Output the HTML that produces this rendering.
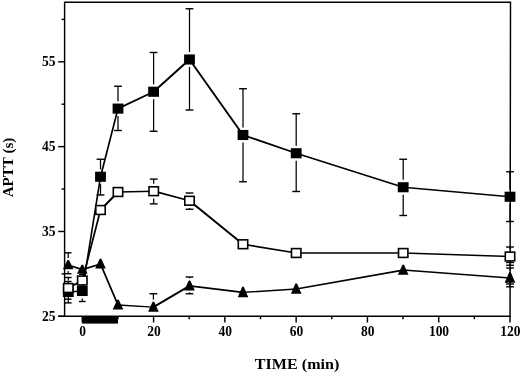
<!DOCTYPE html>
<html><head><meta charset="utf-8"><title>APTT vs TIME</title>
<style>html,body{margin:0;padding:0;background:#fff}body{width:520px;height:373px;overflow:hidden}</style></head>
<body>
<svg width="520" height="373" viewBox="0 0 520 373" style="display:block;will-change:transform">
<rect width="520" height="373" fill="#fff"/>
<g stroke="#000" stroke-width="1.45" fill="none" stroke-linecap="butt">
<path d="M64.6 317 L64.6 2.3 L510.5 2.3 L510.05 317"/>
<line x1="58.3" x2="510.7" y1="316.3" y2="316.3"/>
<line x1="58.2" x2="64.5" y1="316.30" y2="316.30"/>
<line x1="58.2" x2="64.5" y1="231.47" y2="231.47"/>
<line x1="58.2" x2="64.5" y1="146.64" y2="146.64"/>
<line x1="58.2" x2="64.5" y1="61.81" y2="61.81"/>
<line x1="61.6" x2="64.5" y1="273.88" y2="273.88"/>
<line x1="61.6" x2="64.5" y1="189.06" y2="189.06"/>
<line x1="61.6" x2="64.5" y1="104.22" y2="104.22"/>
<line x1="61.6" x2="64.5" y1="19.39" y2="19.39"/>
<line y1="316.3" y2="322.5" x1="82.30" x2="82.30"/>
<line y1="316.3" y2="322.5" x1="153.58" x2="153.58"/>
<line y1="316.3" y2="322.5" x1="224.86" x2="224.86"/>
<line y1="316.3" y2="322.5" x1="296.14" x2="296.14"/>
<line y1="316.3" y2="322.5" x1="367.42" x2="367.42"/>
<line y1="316.3" y2="322.5" x1="438.70" x2="438.70"/>
<line y1="316.3" y2="322.5" x1="509.98" x2="509.98"/>
<line y1="316.3" y2="319.2" x1="117.94" x2="117.94"/>
<line y1="316.3" y2="319.2" x1="189.22" x2="189.22"/>
<line y1="316.3" y2="319.2" x1="260.50" x2="260.50"/>
<line y1="316.3" y2="319.2" x1="331.78" x2="331.78"/>
<line y1="316.3" y2="319.2" x1="403.06" x2="403.06"/>
<line y1="316.3" y2="319.2" x1="474.34" x2="474.34"/>
</g>
<rect x="82.2" y="316.3" width="35.8" height="7.3" fill="#000"/>
<g stroke="#000" stroke-width="1.25" fill="none">
<line x1="68.3" x2="68.3" y1="281.5" y2="284.60"/>
<line x1="68.3" x2="68.3" y1="299.40" y2="302.9"/>
<line x1="65.0" x2="71.6" y1="281.5" y2="281.5" stroke-width="1.4"/>
<line x1="65.0" x2="71.6" y1="302.9" y2="302.9" stroke-width="1.4"/>
<line x1="82.3" x2="82.3" y1="298.40" y2="301.5"/>
<line x1="79.0" x2="85.6" y1="301.5" y2="301.5" stroke-width="1.4"/>
<line x1="100.5" x2="100.5" y1="159.25" y2="169.35"/>
<line x1="100.5" x2="100.5" y1="184.15" y2="195"/>
<line x1="96.6" x2="104.4" y1="159.25" y2="159.25" stroke-width="1.4"/>
<line x1="96.6" x2="104.4" y1="195" y2="195" stroke-width="1.4"/>
<line x1="118" x2="118" y1="86.25" y2="101.20"/>
<line x1="118" x2="118" y1="116.00" y2="130.5"/>
<line x1="114.1" x2="121.9" y1="86.25" y2="86.25" stroke-width="1.4"/>
<line x1="114.1" x2="121.9" y1="130.5" y2="130.5" stroke-width="1.4"/>
<line x1="153.6" x2="153.6" y1="52.5" y2="84.35"/>
<line x1="153.6" x2="153.6" y1="99.15" y2="131.25"/>
<line x1="149.7" x2="157.5" y1="52.5" y2="52.5" stroke-width="1.4"/>
<line x1="149.7" x2="157.5" y1="131.25" y2="131.25" stroke-width="1.4"/>
<line x1="189.5" x2="189.5" y1="8.75" y2="52.10"/>
<line x1="189.5" x2="189.5" y1="66.90" y2="110"/>
<line x1="185.6" x2="193.4" y1="8.75" y2="8.75" stroke-width="1.4"/>
<line x1="185.6" x2="193.4" y1="110" y2="110" stroke-width="1.4"/>
<line x1="243" x2="243" y1="88.75" y2="127.60"/>
<line x1="243" x2="243" y1="142.40" y2="181.75"/>
<line x1="239.1" x2="246.9" y1="88.75" y2="88.75" stroke-width="1.4"/>
<line x1="239.1" x2="246.9" y1="181.75" y2="181.75" stroke-width="1.4"/>
<line x1="296.2" x2="296.2" y1="113.75" y2="145.85"/>
<line x1="296.2" x2="296.2" y1="160.65" y2="191.5"/>
<line x1="292.3" x2="300.1" y1="113.75" y2="113.75" stroke-width="1.4"/>
<line x1="292.3" x2="300.1" y1="191.5" y2="191.5" stroke-width="1.4"/>
<line x1="403.2" x2="403.2" y1="159.25" y2="179.85"/>
<line x1="403.2" x2="403.2" y1="194.65" y2="215.5"/>
<line x1="399.3" x2="407.1" y1="159.25" y2="159.25" stroke-width="1.4"/>
<line x1="399.3" x2="407.1" y1="215.5" y2="215.5" stroke-width="1.4"/>
<line x1="510" x2="510" y1="171.75" y2="189.35"/>
<line x1="510" x2="510" y1="204.15" y2="221.5"/>
<line x1="506.1" x2="513.9" y1="171.75" y2="171.75" stroke-width="1.4"/>
<line x1="506.1" x2="513.9" y1="221.5" y2="221.5" stroke-width="1.4"/>
<line x1="68.3" x2="68.3" y1="277.5" y2="280.60"/>
<line x1="68.3" x2="68.3" y1="295.40" y2="299.2"/>
<line x1="65.0" x2="71.6" y1="277.5" y2="277.5" stroke-width="1.4"/>
<line x1="65.0" x2="71.6" y1="299.2" y2="299.2" stroke-width="1.4"/>
<line x1="79.0" x2="85.6" y1="274.4" y2="274.4" stroke-width="1.4"/>
<line x1="79.0" x2="85.6" y1="286.3" y2="286.3" stroke-width="1.4"/>
<line x1="153.7" x2="153.7" y1="179.1" y2="183.80"/>
<line x1="153.7" x2="153.7" y1="198.60" y2="203.9"/>
<line x1="149.8" x2="157.6" y1="179.1" y2="179.1" stroke-width="1.4"/>
<line x1="149.8" x2="157.6" y1="203.9" y2="203.9" stroke-width="1.4"/>
<line x1="189.5" x2="189.5" y1="193" y2="193.35"/>
<line x1="189.5" x2="189.5" y1="208.15" y2="209.25"/>
<line x1="185.6" x2="193.4" y1="193" y2="193" stroke-width="1.4"/>
<line x1="185.6" x2="193.4" y1="209.25" y2="209.25" stroke-width="1.4"/>
<line x1="510" x2="510" y1="247" y2="249.10"/>
<line x1="510" x2="510" y1="263.90" y2="265.3"/>
<line x1="506.1" x2="513.9" y1="247" y2="247" stroke-width="1.4"/>
<line x1="506.1" x2="513.9" y1="265.3" y2="265.3" stroke-width="1.4"/>
<line x1="68.2" x2="68.2" y1="252.8" y2="257.90"/>
<line x1="68.2" x2="68.2" y1="271.10" y2="273.7"/>
<line x1="64.9" x2="71.5" y1="252.8" y2="252.8" stroke-width="1.4"/>
<line x1="64.9" x2="71.5" y1="273.7" y2="273.7" stroke-width="1.4"/>
<line x1="153.4" x2="153.4" y1="293.75" y2="299.60"/>
<line x1="149.5" x2="157.3" y1="293.75" y2="293.75" stroke-width="1.4"/>
<line x1="189.5" x2="189.5" y1="277" y2="278.35"/>
<line x1="189.5" x2="189.5" y1="292.40" y2="293.75"/>
<line x1="185.6" x2="193.4" y1="277" y2="277" stroke-width="1.4"/>
<line x1="185.6" x2="193.4" y1="293.75" y2="293.75" stroke-width="1.4"/>
<line x1="510" x2="510" y1="268" y2="270.20"/>
<line x1="510" x2="510" y1="284.70" y2="286.8"/>
<line x1="506.1" x2="513.9" y1="268" y2="268" stroke-width="1.4"/>
<line x1="506.1" x2="513.9" y1="286.8" y2="286.8" stroke-width="1.4"/>
<line x1="506" x2="514" y1="262.5" y2="262.5" stroke-width="1.4"/>
<line x1="506" x2="514" y1="284" y2="284" stroke-width="1.4"/>
</g>
<g stroke="#000" fill="none" stroke-linecap="round">
<line x1="68.3" y1="292.00" x2="82.3" y2="291.00" stroke-width="1.50"/>
<line x1="82.3" y1="291.00" x2="100.5" y2="176.75" stroke-width="1.60"/>
<line x1="100.5" y1="176.75" x2="118" y2="108.60" stroke-width="1.70"/>
<line x1="118" y1="108.60" x2="153.6" y2="91.75" stroke-width="1.86"/>
<line x1="153.6" y1="91.75" x2="189.5" y2="59.50" stroke-width="1.98"/>
<line x1="189.5" y1="59.50" x2="243" y2="135.00" stroke-width="1.95"/>
<line x1="243" y1="135.00" x2="296.2" y2="153.25" stroke-width="1.78"/>
<line x1="296.2" y1="153.25" x2="403.2" y2="187.25" stroke-width="1.76"/>
<line x1="403.2" y1="187.25" x2="510" y2="196.75" stroke-width="1.52"/>
<line x1="68.3" y1="288.00" x2="82.3" y2="280.50" stroke-width="1.90"/>
<line x1="82.3" y1="280.50" x2="100.5" y2="210.00" stroke-width="1.71"/>
<line x1="100.5" y1="210.00" x2="118" y2="192.00" stroke-width="1.98"/>
<line x1="118" y1="192.00" x2="153.7" y2="191.20" stroke-width="1.43"/>
<line x1="153.7" y1="191.20" x2="189.5" y2="200.75" stroke-width="1.71"/>
<line x1="189.5" y1="200.75" x2="243" y2="244.25" stroke-width="1.97"/>
<line x1="243" y1="244.25" x2="296.2" y2="253.00" stroke-width="1.61"/>
<line x1="296.2" y1="253.00" x2="403.2" y2="253.00" stroke-width="1.40"/>
<line x1="403.2" y1="253.00" x2="510" y2="256.50" stroke-width="1.45"/>
<line x1="68.2" y1="265.00" x2="82.3" y2="269.65" stroke-width="1.77"/>
<line x1="82.3" y1="269.65" x2="100.5" y2="264.00" stroke-width="1.75"/>
<line x1="100.5" y1="264.00" x2="118" y2="305.00" stroke-width="1.84"/>
<line x1="118" y1="305.00" x2="153.4" y2="307.12" stroke-width="1.48"/>
<line x1="153.4" y1="307.12" x2="189.5" y2="285.88" stroke-width="1.92"/>
<line x1="189.5" y1="285.88" x2="243" y2="292.38" stroke-width="1.56"/>
<line x1="243" y1="292.38" x2="296.2" y2="289.00" stroke-width="1.49"/>
<line x1="296.2" y1="289.00" x2="403.2" y2="270.12" stroke-width="1.62"/>
<line x1="403.2" y1="270.12" x2="510" y2="277.95" stroke-width="1.50"/>
</g>
<rect x="62.90" y="286.95" width="10.8" height="10.1" fill="#000"/>
<rect x="76.90" y="285.95" width="10.8" height="10.1" fill="#000"/>
<rect x="95.10" y="171.70" width="10.8" height="10.1" fill="#000"/>
<rect x="112.60" y="103.55" width="10.8" height="10.1" fill="#000"/>
<rect x="148.20" y="86.70" width="10.8" height="10.1" fill="#000"/>
<rect x="184.10" y="54.45" width="10.8" height="10.1" fill="#000"/>
<rect x="237.60" y="129.95" width="10.8" height="10.1" fill="#000"/>
<rect x="290.80" y="148.20" width="10.8" height="10.1" fill="#000"/>
<rect x="397.80" y="182.20" width="10.8" height="10.1" fill="#000"/>
<rect x="504.60" y="191.70" width="10.8" height="10.1" fill="#000"/>
<polygon points="67.40,260.00 69.00,260.00 73.50,269.20 62.90,269.20" fill="#000"/>
<polygon points="81.50,264.70 83.10,264.70 87.60,273.80 77.00,273.80" fill="#000"/>
<polygon points="99.70,258.70 101.30,258.70 105.80,268.50 95.20,268.50" fill="#000"/>
<polygon points="117.20,299.70 118.80,299.70 123.30,309.50 112.70,309.50" fill="#000"/>
<polygon points="152.60,301.70 154.20,301.70 158.70,311.75 148.10,311.75" fill="#000"/>
<polygon points="188.70,280.45 190.30,280.45 194.80,290.50 184.20,290.50" fill="#000"/>
<polygon points="242.20,286.70 243.80,286.70 248.30,297.25 237.70,297.25" fill="#000"/>
<polygon points="295.40,283.45 297.00,283.45 301.50,293.75 290.90,293.75" fill="#000"/>
<polygon points="402.40,264.70 404.00,264.70 408.50,274.75 397.90,274.75" fill="#000"/>
<polygon points="509.20,272.30 510.80,272.30 515.30,282.80 504.70,282.80" fill="#000"/>
<rect x="63.60" y="283.60" width="9.4" height="8.8" fill="#fff" stroke="#000" stroke-width="1.6"/>
<rect x="77.60" y="276.10" width="9.4" height="8.8" fill="#fff" stroke="#000" stroke-width="1.6"/>
<rect x="95.80" y="205.60" width="9.4" height="8.8" fill="#fff" stroke="#000" stroke-width="1.6"/>
<rect x="113.30" y="187.60" width="9.4" height="8.8" fill="#fff" stroke="#000" stroke-width="1.6"/>
<rect x="149.00" y="186.80" width="9.4" height="8.8" fill="#fff" stroke="#000" stroke-width="1.6"/>
<rect x="184.80" y="196.35" width="9.4" height="8.8" fill="#fff" stroke="#000" stroke-width="1.6"/>
<rect x="238.30" y="239.85" width="9.4" height="8.8" fill="#fff" stroke="#000" stroke-width="1.6"/>
<rect x="291.50" y="248.60" width="9.4" height="8.8" fill="#fff" stroke="#000" stroke-width="1.6"/>
<rect x="398.50" y="248.60" width="9.4" height="8.8" fill="#fff" stroke="#000" stroke-width="1.6"/>
<rect x="505.30" y="252.10" width="9.4" height="8.8" fill="#fff" stroke="#000" stroke-width="1.6"/>
<g font-family="'Liberation Serif', serif" font-weight="bold" fill="#000">
<text transform="translate(55.6,320.90) scale(1,1.07)" font-size="13.5" text-anchor="end">25</text>
<text transform="translate(55.6,236.07) scale(1,1.07)" font-size="13.5" text-anchor="end">35</text>
<text transform="translate(55.6,151.24) scale(1,1.07)" font-size="13.5" text-anchor="end">45</text>
<text transform="translate(55.6,66.41) scale(1,1.07)" font-size="13.5" text-anchor="end">55</text>
<text transform="translate(82.60,336.2) scale(1,1.03)" font-size="13.5" text-anchor="middle">0</text>
<text transform="translate(153.88,336.2) scale(1,1.03)" font-size="13.5" text-anchor="middle">20</text>
<text transform="translate(225.16,336.2) scale(1,1.03)" font-size="13.5" text-anchor="middle">40</text>
<text transform="translate(296.44,336.2) scale(1,1.03)" font-size="13.5" text-anchor="middle">60</text>
<text transform="translate(367.72,336.2) scale(1,1.03)" font-size="13.5" text-anchor="middle">80</text>
<text transform="translate(439.00,336.2) scale(1,1.03)" font-size="13.5" text-anchor="middle">100</text>
<text transform="translate(510.28,336.2) scale(1,1.03)" font-size="13.5" text-anchor="middle">120</text>
<text transform="translate(297.1,369.1) scale(1.045,1)" font-size="15.4" text-anchor="middle">TIME (min)</text>
<text transform="translate(12.9,167.5) rotate(-90)" font-size="15.1" text-anchor="middle">APTT (s)</text>
</g>
</svg>
</body></html>
